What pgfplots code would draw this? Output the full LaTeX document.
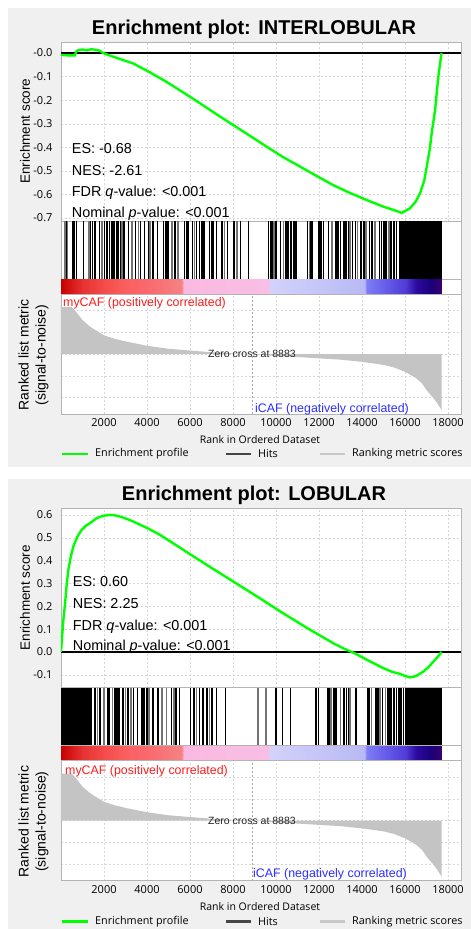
\documentclass[border=0pt]{standalone}
\usepackage{fontspec}
\setmainfont{Liberation Sans}
\newfontfamily\osans{Open Sans}
\usepackage{pgfplots}
\pgfplotsset{compat=1.18}
\definecolor{esgreen}{RGB}{0,255,0}
\definecolor{panelgray}{RGB}{240,240,240}
\definecolor{gridgray}{RGB}{215,215,215}
\definecolor{framegray}{RGB}{180,180,180}
\definecolor{metricgray}{RGB}{196,196,196}
\definecolor{mycafred}{RGB}{250,30,30}
\definecolor{icafblue}{RGB}{45,45,255}
\definecolor{hitsgray}{RGB}{70,70,70}
\definecolor{leggray}{RGB}{200,200,200}

\pgfplotsset{
  gseabase/.style={
    scale only axis, width=400pt, xmin=0, xmax=18605,
    anchor=north west,
    axis line style={framegray},
    axis background/.style={fill=white},
    tick style={draw=none},
    tick label style={font=\osans\fontsize{11}{13}\selectfont},
    /pgf/number format/assume math mode=true,
    scaled x ticks=false, scaled y ticks=false,
    clip=true,
  },
  gsgrid/.style={grid=major, grid style={gridgray, dash pattern=on 2pt off 2pt}},
  gscolormap/.style={
    colormap={gsea}{
      rgb255(0pt)=(200,0,0);
      rgb255(5pt)=(215,25,25);
      rgb255(10pt)=(230,50,50);
      rgb255(20pt)=(245,75,75);
      rgb255(30pt)=(250,95,95);
      rgb255(40pt)=(250,105,110);
      rgb255(56pt)=(245,130,130);
      rgb255(57pt)=(250,185,225);
      rgb255(96pt)=(248,190,228);
      rgb255(97pt)=(210,210,250);
      rgb255(141pt)=(185,185,245);
      rgb255(142pt)=(125,125,245);
      rgb255(150pt)=(105,95,235);
      rgb255(160pt)=(80,60,215);
      rgb255(165pt)=(45,10,160);
      rgb255(172pt)=(25,0,120);
      rgb255(177pt)=(60,0,110)
    },
    point meta min=0, point meta max=17700,
  },
}

\pgfplotstableread{
r m
0 0
0 1.08
500 1.08
700 0.97
1000 0.78
1300 0.65
1500 0.58
2000 0.43
2500 0.35
3000 0.29
3500 0.24
4000 0.19
5000 0.12
6000 0.08
7000 0.04
8000 0.015
8883 0
10000 -0.045
11000 -0.07
12000 -0.10
13000 -0.13
14000 -0.18
15000 -0.25
15500 -0.31
16000 -0.41
16500 -0.55
16800 -0.68
17000 -0.83
17300 -1.0
17500 -1.13
17700 -1.29
17700 0
}\metric

\begin{document}
\begin{tikzpicture}
\path[use as bounding box] (0,0) rectangle (471pt,-929pt);
\fill[panelgray] (8pt,-8pt) rectangle (471pt,-467pt);
\fill[panelgray] (8pt,-479pt) rectangle (471pt,-929pt);

% ================= TOP PANEL =================
\begin{axis}[gseabase, gsgrid, at={(61pt,-42pt)}, height=179pt,
  ymin=-0.7127, ymax=0.0467,
  ytick={-0.7,-0.6,-0.5,-0.4,-0.3,-0.2,-0.1,0},
  yticklabels={-0.7,-0.6,-0.5,-0.4,-0.3,-0.2,-0.1,-0.0},
  yticklabel style={xshift=-5pt},
  xtick={2000,4000,...,18000}, xticklabels={}]
\addplot[black, line width=1.3pt] coordinates {(0,0) (18605,0)};
\addplot[esgreen, line width=2.4pt] coordinates {
(0,-0.008) (300,-0.01) (650,-0.01) (700,0.005) (800,0.012) (1000,0.015) (1200,0.011)
(1400,0.016) (1600,0.014) (1800,0.01) (1950,0.0) (2500,-0.018) (3350,-0.044)
(4100,-0.08) (4900,-0.122) (5700,-0.168) (6460,-0.213) (7200,-0.258) (8000,-0.305)
(8800,-0.352) (9560,-0.397) (10300,-0.44) (11120,-0.482) (11900,-0.522) (12650,-0.56)
(13400,-0.592) (14230,-0.624) (15000,-0.652) (15500,-0.667) (15850,-0.678)
(16230,-0.659) (16500,-0.63) (16700,-0.595) (16900,-0.54) (17010,-0.482)
(17150,-0.41) (17240,-0.341) (17400,-0.242) (17550,-0.1) (17700,0.0)};
\end{axis}

\begin{axis}[gseabase, at={(61pt,-221pt)}, height=58pt, ymin=0, ymax=1,
  xtick=\empty, ytick=\empty]
\addplot[ycomb, black!55, line width=1.6pt, mark=none] coordinates {
(180,1)(300,1)(1300,1)(1900,1)(2850,1)(3300,1)(3600,1)(4150,1)(5150,1)(5450,1)
(6200,1)(7600,1)(8200,1)(9900,1)(10350,1)(11550,1)(12600,1)(13450,1)(13800,1)(14200,1)(14600,1)(15250,1)};
\addplot[ycomb, black, line width=1.2pt, mark=none] coordinates {
(240,1)(560,1)(640,1)(720,1)(1054,1)(1380,1)(1460,1)(1540,1)(1597,1)(1798,1)
(2031,1)(2110,1)(2180,1)(2263,1)(2340,1)(2420,1)(2500,1)(2580,1)(2650,1)(2774,1)(2930,1)
(3147,1)(3457,1)(3705,1)(3891,1)(4077,1)(4278,1)(4479,1)(4770,1)(4850,1)(4930,1)(5000,1)
(5286,1)(5330,1)(5750,1)(5830,1)(5910,1)(6107,1)(6293,1)(6450,1)(6530,1)(6600,1)(6680,1)
(6900,1)(6990,1)(7070,1)(7223,1)(7487,1)(7735,1)(8045,1)(8355,1)(8727,1)
(9660,1)(9740,1)(9812,1)(9998,1)(10215,1)(10463,1)(10556,1)(10695,1)(10800,1)(10880,1)
(10958,1)(11470,1)(11625,1)(11703,1)(12000,1)(12060,1)(12121,1)(12200,1)(12447,1)
(12788,1)(12850,1)(12920,1)(13005,1)(13129,1)(13200,1)(13253,1)(13377,1)(13563,1)
(13687,1)(13950,1)(14090,1)(14338,1)(14462,1)(14803,1)(14911,1)(15020,1)(15113,1)
(15345,1)(15485,1)(15609,1)};
\addplot[fill=black, draw=none] coordinates {(15740,0)(15740,1)(17700,1)(17700,0)};
\end{axis}

\begin{axis}[gseabase, gscolormap, at={(61pt,-279pt)}, height=15pt, ymin=0, ymax=1,
  xtick=\empty, ytick=\empty]
\addplot[surf, shader=interp, mesh/rows=2, point meta=x] coordinates {
(0,0) (17700,0)
(0,1) (17700,1)};
\end{axis}

\begin{axis}[gseabase, gsgrid, at={(61pt,-294pt)}, height=120pt,
  ymin=-1.38, ymax=1.38, ytick={-1,-0.5,0,0.5,1}, yticklabels={},
  xtick={2000,4000,...,18000},
  xticklabels={2000,4000,6000,8000,10000,12000,14000,16000,18000},
  xticklabel style={yshift=-1pt}]
\addplot[fill=metricgray, draw=none] table[x=r, y=m] {\metric};
\addplot[gray!70, dash pattern=on 2pt off 2pt, line width=0.5pt] coordinates {(8883,-1.38) (8883,1.38)};
\node[font=\fontsize{10.5}{12}\selectfont, text=black!85] at (axis cs:8883,0) {Zero cross at 8883};
\end{axis}

\node[font=\fontsize{20}{24}\selectfont\bfseries] at (254pt,-29pt) {Enrichment plot: INTERLOBULAR};
\node[rotate=90, font=\fontsize{13.5}{16}\selectfont] at (25pt,-131pt) {Enrichment score};
\node[rotate=90, align=center, font=\fontsize{14}{17}\selectfont] at (33.5pt,-355pt) {Ranked list metric\\(signal-to-noise)};
\begin{scope}[every node/.style={anchor=base west, inner sep=0pt, font=\fontsize{14.4}{17}\selectfont}]
\node at (71.7pt,-153pt) {ES: -0.68};
\node at (71.7pt,-175pt) {NES: -2.61};
\node at (71.7pt,-196.5pt) {FDR \textit{q}-value: <0.001};
\node at (71.7pt,-217.5pt) {Nominal \textit{p}-value: <0.001};
\end{scope}
\node[anchor=base west, inner sep=0pt, text=mycafred, font=\fontsize{12.4}{15}\selectfont] at (63pt,-306.2pt) {myCAF (positively correlated)};
\node[anchor=base west, inner sep=0pt, text=icafblue, font=\fontsize{12.4}{15}\selectfont] at (255pt,-412pt) {iCAF (negatively correlated)};
\node[font=\osans\fontsize{10.5}{12}\selectfont] at (260pt,-440pt) {Rank in Ordered Dataset};
\draw[esgreen, line width=2.5pt] (62pt,-454pt) -- (88pt,-454pt);
\node[anchor=west, inner sep=0pt, font=\osans\fontsize{10.8}{13}\selectfont] at (95pt,-454pt) {Enrichment profile};
\draw[hitsgray, line width=2.5pt] (226pt,-454pt) -- (251pt,-454pt);
\node[anchor=west, inner sep=0pt, font=\osans\fontsize{10.8}{13}\selectfont] at (258pt,-454pt) {Hits};
\draw[leggray, line width=2.5pt] (320pt,-454pt) -- (345pt,-454pt);
\node[anchor=west, inner sep=0pt, font=\osans\fontsize{10.8}{13}\selectfont] at (352pt,-454pt) {Ranking metric scores};

% ================= BOTTOM PANEL =================
\begin{axis}[gseabase, gsgrid, at={(61pt,-508.5pt)}, height=179pt,
  ymin=-0.1555, ymax=0.628,
  ytick={-0.1,0,0.1,0.2,0.3,0.4,0.5,0.6},
  yticklabels={-0.1,0.0,0.1,0.2,0.3,0.4,0.5,0.6},
  yticklabel style={xshift=-5pt},
  xtick={2000,4000,...,18000}, xticklabels={}]
\addplot[black, line width=1.3pt] coordinates {(0,0) (18605,0)};
\addplot[esgreen, line width=2.4pt] coordinates {
(0,0) (60,0.08) (120,0.15) (190,0.213) (260,0.29) (340,0.359) (450,0.415) (570,0.461)
(760,0.505) (960,0.534) (1150,0.552) (1350,0.564) (1660,0.586) (1950,0.596) (2280,0.600)
(2500,0.598) (2740,0.593) (3050,0.583) (3360,0.571) (4000,0.543) (4600,0.513) (5690,0.447)
(6850,0.377) (8020,0.308) (9200,0.238) (10340,0.169) (11500,0.102) (12670,0.038)
(13200,0.013) (13670,-0.006) (14300,-0.038) (15000,-0.071) (15400,-0.087) (15770,-0.096)
(16000,-0.105) (16230,-0.111) (16500,-0.106) (16850,-0.086) (17100,-0.066) (17320,-0.042)
(17550,-0.018) (17700,0)};
\end{axis}

\begin{axis}[gseabase, at={(61pt,-687.5pt)}, height=58pt, ymin=0, ymax=1,
  xtick=\empty, ytick=\empty]
\addplot[fill=black, draw=none] coordinates {(0,0)(0,1)(1420,1)(1420,0)};
\addplot[ycomb, black!55, line width=1.6pt, mark=none] coordinates {
(1700,1)(2000,1)(2400,1)(3000,1)(3250,1)(4100,1)(4700,1)(4914,1)(5250,1)(6300,1)(6900,1)
(9176,1)(9532,1)(12550,1)(13000,1)(13450,1)(14450,1)(14850,1)(15100,1)};
\addplot[ycomb, black, line width=1.2pt, mark=none] coordinates {
(1566,1)(1600,1)(1783,1)(1830,1)(2155,1)(2200,1)(2263,1)(2495,1)(2560,1)(2604,1)
(2660,1)(2712,1)(2883,1)(3116,1)(3364,1)(3550,1)(3767,1)(3810,1)(3860,1)(3999,1)(4247,1)
(4300,1)(4479,1)(4520,1)(5146,1)(5348,1)(5518,1)(6029,1)(6185,1)(6433,1)(6603,1)
(6789,1)(7022,1)(7223,1)(7642,1)
(9998,1)(10292,1)(10680,1)(11858,1)(11982,1)(12385,1)(12430,1)(12478,1)
(12695,1)(12788,1)(13160,1)(13284,1)(13377,1)(13718,1)(14245,1)(14300,1)(14338,1)
(14648,1)(14741,1)(14957,1)(15175,1)(15240,1)(15299,1)(15380,1)(15454,1)(15530,1)
(15609,1)(15690,1)(15764,1)(15840,1)(15919,1)};
\addplot[fill=black, draw=none] coordinates {(16000,0)(16000,1)(17700,1)(17700,0)};
\end{axis}

\begin{axis}[gseabase, gscolormap, at={(61pt,-745.5pt)}, height=15pt, ymin=0, ymax=1,
  xtick=\empty, ytick=\empty]
\addplot[surf, shader=interp, mesh/rows=2, point meta=x] coordinates {
(0,0) (17700,0)
(0,1) (17700,1)};
\end{axis}

\begin{axis}[gseabase, gsgrid, at={(61pt,-760.5pt)}, height=120pt,
  ymin=-1.38, ymax=1.38, ytick={-1,-0.5,0,0.5,1}, yticklabels={},
  xtick={2000,4000,...,18000},
  xticklabels={2000,4000,6000,8000,10000,12000,14000,16000,18000},
  xticklabel style={yshift=-1pt}]
\addplot[fill=metricgray, draw=none] table[x=r, y=m] {\metric};
\addplot[gray!70, dash pattern=on 2pt off 2pt, line width=0.5pt] coordinates {(8883,-1.38) (8883,1.38)};
\node[font=\fontsize{10.5}{12}\selectfont, text=black!85] at (axis cs:8883,0) {Zero cross at 8883};
\end{axis}

\node[font=\fontsize{20}{24}\selectfont\bfseries] at (254pt,-495.5pt) {Enrichment plot: LOBULAR};
\node[rotate=90, font=\fontsize{13.5}{16}\selectfont] at (25pt,-597.5pt) {Enrichment score};
\node[rotate=90, align=center, font=\fontsize{14}{17}\selectfont] at (33.5pt,-821.5pt) {Ranked list metric\\(signal-to-noise)};
\begin{scope}[every node/.style={anchor=base west, inner sep=0pt, font=\fontsize{14.4}{17}\selectfont}]
\node at (72.7pt,-586.9pt) {ES: 0.60};
\node at (72.7pt,-608.5pt) {NES: 2.25};
\node at (72.7pt,-630.2pt) {FDR \textit{q}-value: <0.001};
\node at (72.7pt,-650.2pt) {Nominal \textit{p}-value: <0.001};
\end{scope}
\node[anchor=base west, inner sep=0pt, text=mycafred, font=\fontsize{12.4}{15}\selectfont] at (65pt,-774.5pt) {myCAF (positively correlated)};
\node[anchor=base west, inner sep=0pt, text=icafblue, font=\fontsize{12.4}{15}\selectfont] at (253pt,-877.6pt) {iCAF (negatively correlated)};
\node[font=\osans\fontsize{10.5}{12}\selectfont] at (260pt,-907pt) {Rank in Ordered Dataset};
\draw[esgreen, line width=2.5pt] (62pt,-921.5pt) -- (88pt,-921.5pt);
\node[anchor=west, inner sep=0pt, font=\osans\fontsize{10.8}{13}\selectfont] at (95pt,-921.5pt) {Enrichment profile};
\draw[hitsgray, line width=2.5pt] (226pt,-921.5pt) -- (251pt,-921.5pt);
\node[anchor=west, inner sep=0pt, font=\osans\fontsize{10.8}{13}\selectfont] at (258pt,-921.5pt) {Hits};
\draw[leggray, line width=2.5pt] (320pt,-921.5pt) -- (345pt,-921.5pt);
\node[anchor=west, inner sep=0pt, font=\osans\fontsize{10.8}{13}\selectfont] at (352pt,-921.5pt) {Ranking metric scores};
\end{tikzpicture}
\end{document}
